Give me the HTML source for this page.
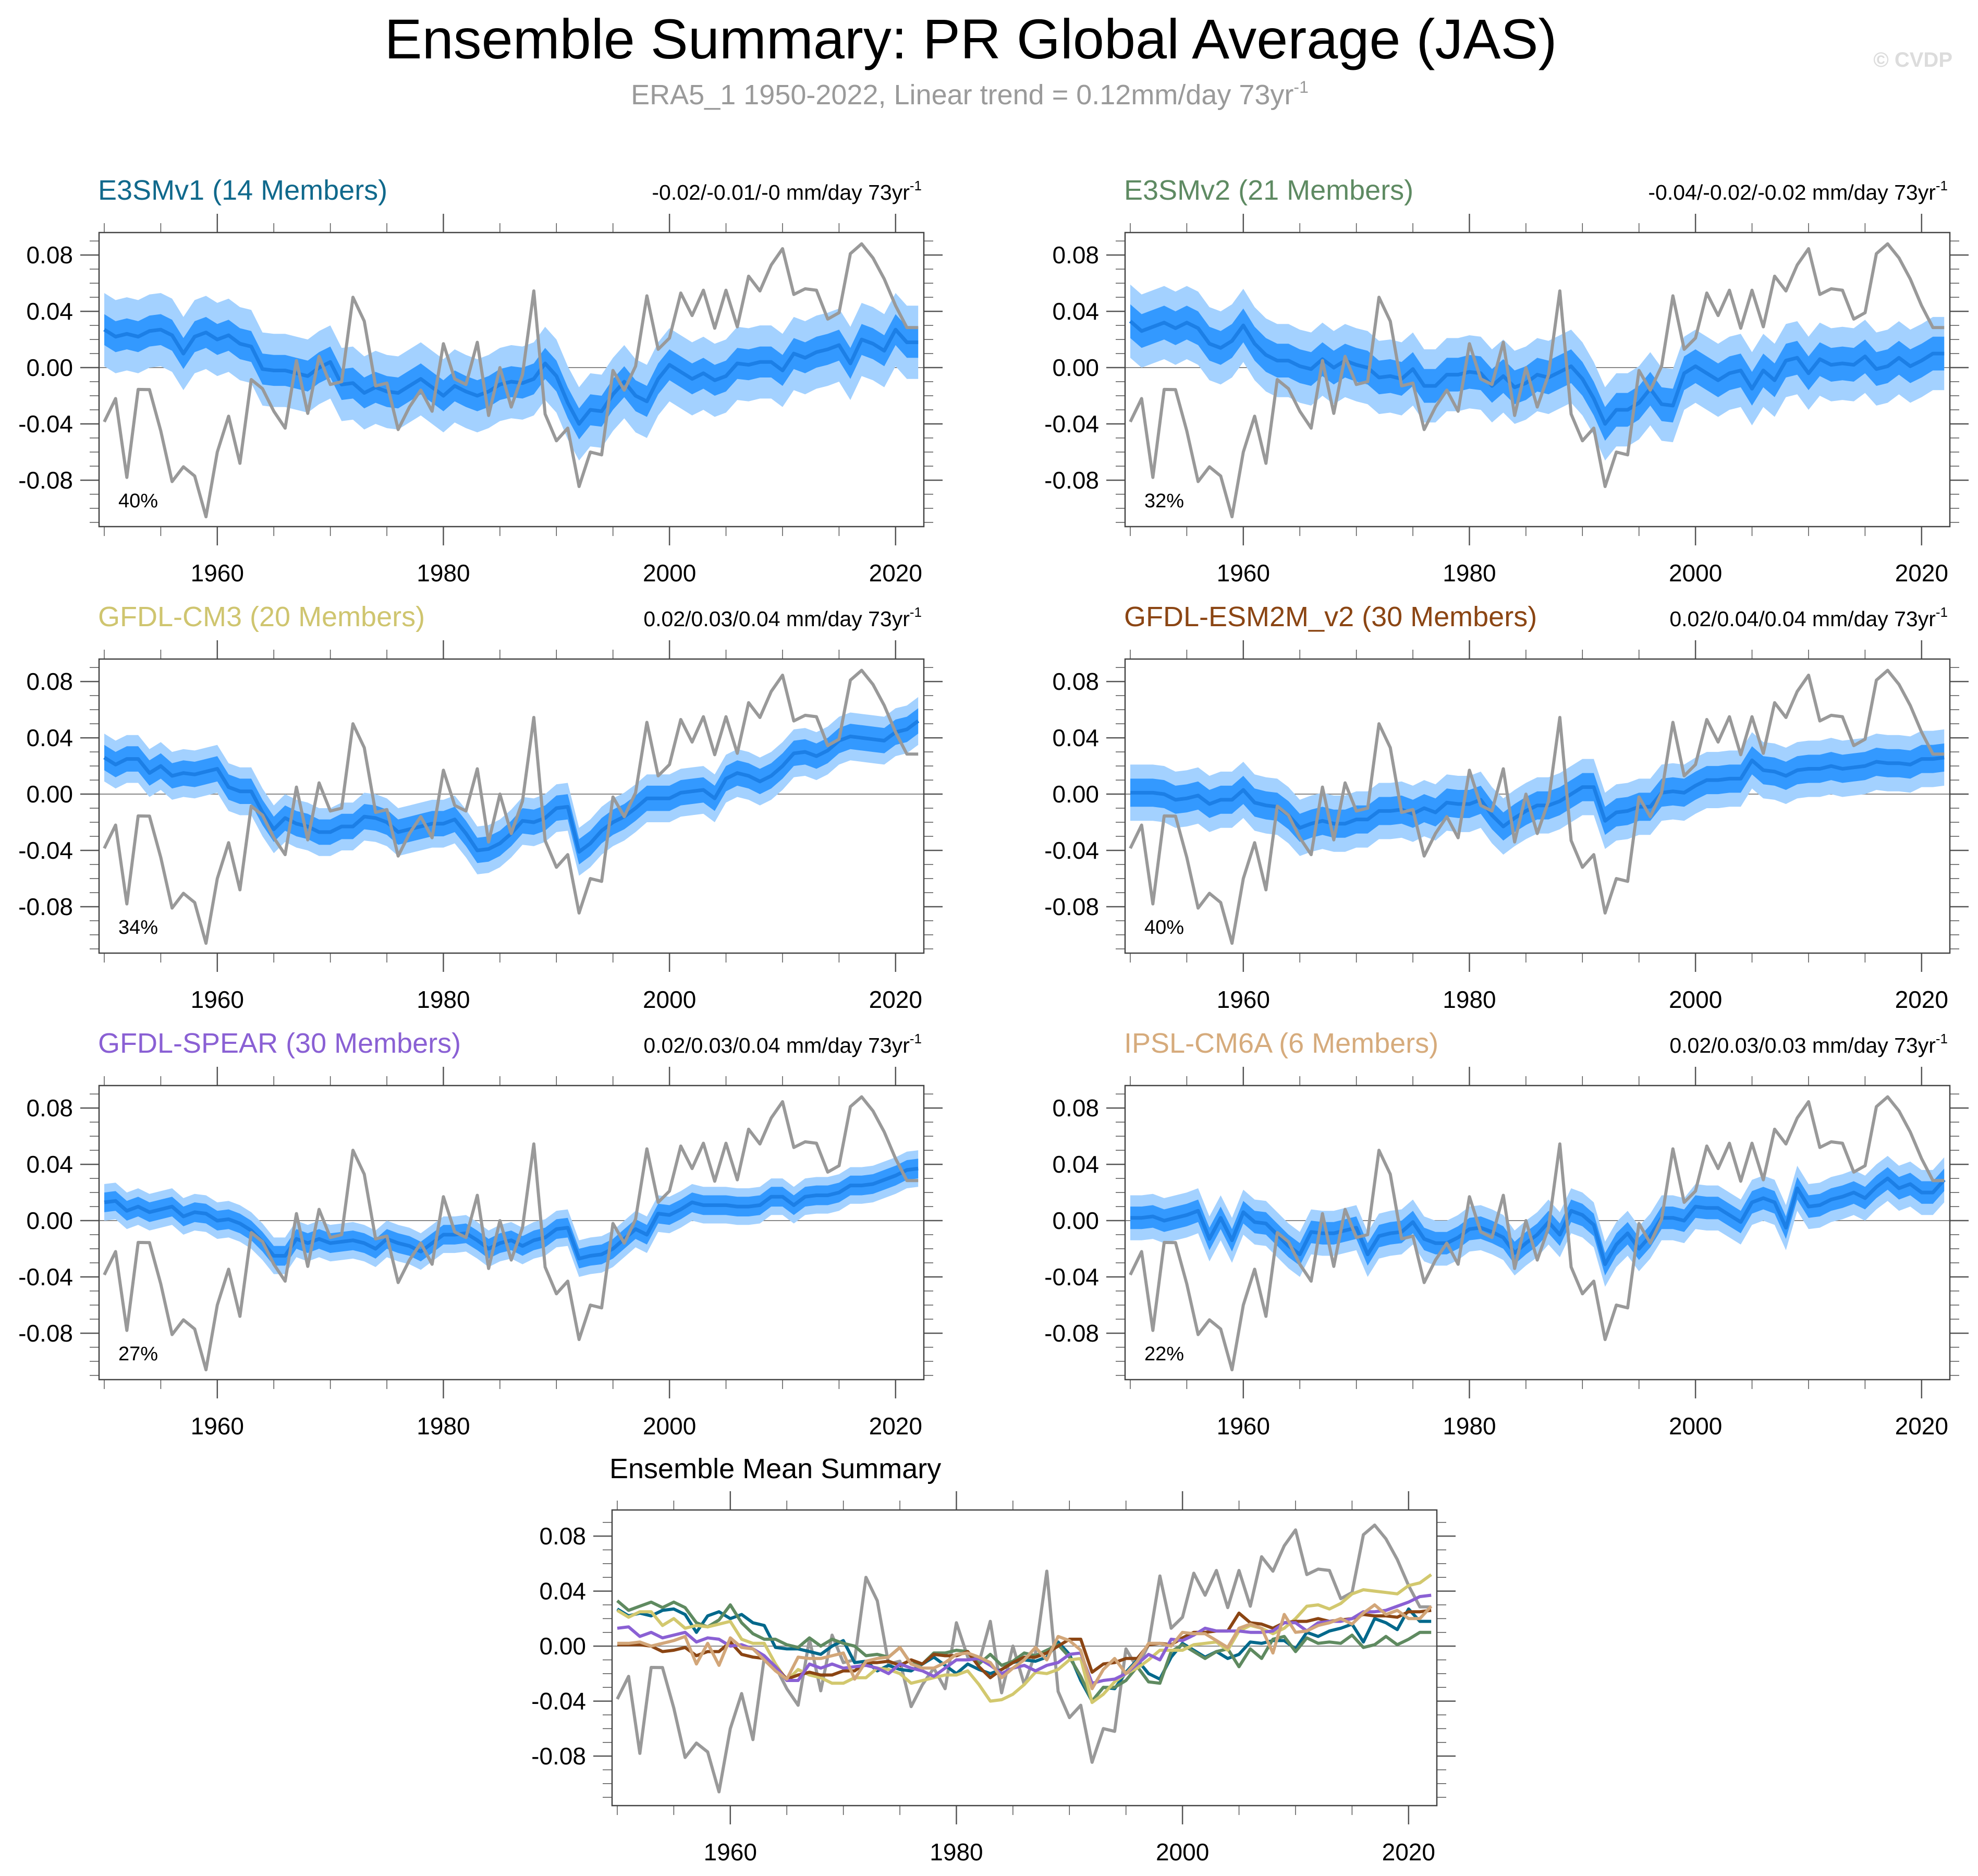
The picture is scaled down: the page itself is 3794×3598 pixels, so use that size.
<!DOCTYPE html>
<html><head><meta charset="utf-8"><style>
html,body{margin:0;padding:0;background:#fff}
svg{display:block}
text{font-family:"Liberation Sans",Arial,sans-serif}
</style></head><body>
<svg id="chart" width="3794" height="3598" viewBox="0 0 3794 3598" xmlns="http://www.w3.org/2000/svg">
<text x="1862" y="112" font-size="108" text-anchor="middle" fill="#000">Ensemble Summary: PR Global Average (JAS)</text>
<text x="1860" y="200" font-size="54" text-anchor="middle" fill="#9a9a9a">ERA5_1 1950-2022, Linear trend = 0.12mm/day 73yr<tspan dy="-22" font-size="32">-1</tspan></text>
<text x="3745" y="128" font-size="40" font-weight="bold" text-anchor="end" fill="#dcdcdc">© CVDP</text>
<g id="panels"></g>
</svg>
<script>
const years = [];
for (let y = 1950; y <= 2022; y++) years.push(y);
const obs = [-0.0385,-0.022,-0.078,-0.0155,-0.0156,-0.045,-0.081,-0.0705,-0.077,-0.106,-0.06,-0.0345,-0.068,-0.0085,-0.015,-0.031,-0.043,0.005,-0.0325,0.008,-0.012,-0.01,0.05,0.033,-0.013,-0.011,-0.044,-0.028,-0.016,-0.031,0.017,-0.008,-0.012,0.018,-0.034,0.0,-0.028,-0.005,0.0545,-0.033,-0.052,-0.043,-0.0845,-0.06,-0.062,-0.002,-0.016,0.001,0.051,0.013,0.021,0.053,0.037,0.055,0.028,0.055,0.029,0.065,0.0545,0.073,0.0845,0.052,0.056,0.055,0.0345,0.039,0.081,0.088,0.078,0.063,0.044,0.0285,0.0285];
const meanE3SMv1 = [0.027,0.022,0.024,0.022,0.026,0.027,0.023,0.010,0.022,0.025,0.020,0.023,0.017,0.015,-0.001,-0.002,-0.002,-0.004,-0.006,0.0,0.004,-0.012,-0.011,-0.018,-0.014,-0.017,-0.018,-0.013,-0.008,-0.014,-0.020,-0.013,-0.017,-0.020,-0.017,-0.012,-0.010,-0.011,-0.008,0.003,-0.006,-0.025,-0.040,-0.030,-0.031,-0.019,-0.010,-0.020,-0.024,-0.008,0.002,-0.003,-0.008,-0.004,-0.009,-0.006,0.003,0.002,0.004,0.004,-0.002,0.010,0.007,0.011,0.013,0.016,0.003,0.020,0.017,0.012,0.027,0.018,0.018];
const meanE3SMv2 = [0.033,0.026,0.029,0.032,0.028,0.032,0.028,0.017,0.014,0.019,0.030,0.017,0.009,0.005,0.005,0.001,-0.001,0.006,0.0,0.005,0.002,0.0,-0.007,-0.006,-0.008,-0.001,-0.013,-0.013,-0.005,-0.005,-0.003,-0.004,-0.013,-0.006,-0.014,-0.011,-0.005,-0.007,-0.003,0.001,-0.008,-0.022,-0.040,-0.030,-0.030,-0.025,-0.015,-0.026,-0.027,-0.004,0.001,-0.004,-0.009,-0.004,-0.002,-0.015,-0.002,-0.009,0.005,0.007,-0.004,0.006,0.002,0.003,0.002,0.008,-0.001,0.001,0.007,0.001,0.005,0.010,0.010];
const meanCM3 = [0.026,0.021,0.025,0.025,0.015,0.020,0.013,0.015,0.014,0.016,0.018,0.005,0.002,0.002,-0.013,-0.025,-0.017,-0.021,-0.023,-0.027,-0.027,-0.023,-0.023,-0.016,-0.017,-0.020,-0.027,-0.025,-0.023,-0.021,-0.021,-0.018,-0.028,-0.040,-0.039,-0.035,-0.028,-0.019,-0.020,-0.017,-0.010,-0.009,-0.041,-0.035,-0.026,-0.020,-0.016,-0.010,-0.003,-0.003,-0.003,0.001,0.002,0.003,-0.003,0.011,0.015,0.013,0.009,0.013,0.020,0.029,0.030,0.027,0.031,0.038,0.041,0.040,0.039,0.038,0.044,0.046,0.052];
const meanESM2M = [0.001,0.001,0.001,0.0,-0.004,-0.003,-0.001,-0.007,-0.004,-0.004,0.003,-0.006,-0.008,-0.009,-0.015,-0.024,-0.021,-0.019,-0.021,-0.021,-0.018,-0.018,-0.012,-0.012,-0.011,-0.014,-0.010,-0.013,-0.006,-0.007,-0.007,-0.004,-0.015,-0.023,-0.017,-0.012,-0.008,-0.008,-0.005,0.0,0.005,0.005,-0.019,-0.013,-0.012,-0.009,-0.009,0.001,0.002,0.001,0.006,0.010,0.010,0.011,0.011,0.024,0.017,0.016,0.013,0.017,0.018,0.018,0.020,0.018,0.019,0.020,0.023,0.022,0.022,0.021,0.025,0.025,0.026];
const meanSPEAR = [0.013,0.014,0.007,0.010,0.006,0.008,0.010,0.003,0.006,0.005,0.0,0.001,-0.002,-0.007,-0.015,-0.025,-0.025,-0.013,-0.016,-0.013,-0.016,-0.015,-0.014,-0.016,-0.020,-0.013,-0.016,-0.018,-0.022,-0.016,-0.010,-0.010,-0.009,-0.014,-0.020,-0.016,-0.014,-0.018,-0.014,-0.012,-0.006,-0.005,-0.027,-0.025,-0.024,-0.020,-0.013,-0.006,-0.010,0.005,0.004,0.008,0.013,0.011,0.011,0.011,0.010,0.010,0.011,0.017,0.017,0.011,0.017,0.018,0.018,0.020,0.025,0.025,0.026,0.029,0.032,0.036,0.037];
const meanIPSL = [0.002,0.002,0.003,0.0,0.002,0.004,0.007,-0.013,0.002,-0.014,0.006,-0.001,-0.002,-0.010,-0.018,-0.024,-0.008,-0.009,-0.009,-0.007,-0.005,-0.024,-0.011,-0.009,-0.008,-0.001,-0.013,-0.016,-0.016,-0.012,-0.006,-0.005,-0.008,-0.012,-0.023,-0.016,-0.010,-0.001,-0.010,0.007,0.004,-0.003,-0.031,-0.017,-0.009,-0.020,-0.011,0.002,0.002,0.0,0.010,0.009,0.009,0.004,-0.001,0.013,0.016,0.013,-0.005,0.023,0.010,0.011,0.015,0.017,0.020,0.016,0.024,0.030,0.023,0.026,0.020,0.020,0.029];
const modelNames = ["E3SMv1 (14 Members)","E3SMv2 (21 Members)","GFDL-CM3 (20 Members)","GFDL-ESM2M_v2 (30 Members)","GFDL-SPEAR (30 Members)","IPSL-CM6A (6 Members)"];
const trendLabels = ["-0.02/-0.01/-0 mm/day 73yr","-0.04/-0.02/-0.02 mm/day 73yr","0.02/0.03/0.04 mm/day 73yr","0.02/0.04/0.04 mm/day 73yr","0.02/0.03/0.04 mm/day 73yr","0.02/0.03/0.03 mm/day 73yr"];
const pctLabels = ["40%","32%","34%","40%","27%","22%"];
const innerSpread = [0.011,0.012,0.009,0.010,0.007,0.008];
const outerSpread = [0.026,0.026,0.017,0.020,0.013,0.016];
const yTicks = [-0.08,-0.04,0.00,0.04,0.08];
const yTickLabels = ["-0.08","-0.04","0.00","0.04","0.08"];
const xTicks = [1960,1980,2000,2020];
const means = [meanE3SMv1,meanE3SMv2,meanCM3,meanESM2M,meanSPEAR,meanIPSL];
const titleColors = ["#10698c","#5e8a62","#cfc56f","#8b4513","#8a60d4","#d6ab7c"];
const lineColors = ["#00688b","#5f8a60","#d2c86e","#8b4513","#8a60d4","#d2a679"];

const NS = "http://www.w3.org/2000/svg";
const root = document.getElementById("panels");
function mk(tag, attrs, parent) {
  const e = document.createElementNS(NS, tag);
  for (const k in attrs) e.setAttribute(k, attrs[k]);
  (parent || root).appendChild(e);
  return e;
}

function drawPanel(L, T, W, H, yMin, yMax, name, parentName) {
  const g = mk("g", {});
  
  
  const x0 = 1949.54, x1 = 2022.5;
  const X = v => L + (v - x0) / (x1 - x0) * W;
  const Y = v => T + (yMax - v) / (yMax - yMin) * H;
  const tickColor = "#555";
  for (let v = -0.11; v <= 0.095; v += 0.01) {
    const vv = Math.round(v * 100) / 100;
    const major = Math.abs(Math.round(vv * 100) % 4) === 0;
    const len = major ? 36 : 18;
    const y = Y(vv);
    if (y < T || y > T + H) continue;
    const t1 = mk("line", {x1: L - len, x2: L, y1: y, y2: y, stroke: tickColor, "stroke-width": major ? 2.5 : 1.5}, g);
    
    
    const t2 = mk("line", {x1: L + W, x2: L + W + len, y1: y, y2: y, stroke: tickColor, "stroke-width": major ? 2.5 : 1.5}, g);
    
    
  }
  yTicks.forEach((v, i) => {
    const t = mk("text", {x: L - 50, y: Y(v) + 16, "font-size": 46, "text-anchor": "end", fill: "#000"}, g);
    t.textContent = yTickLabels[i];
    
    
  });
  for (let yr = 1950; yr <= 2022; yr += 5) {
    const major = yr % 20 === 0;
    const len = major ? 36 : 18;
    const x = X(yr);
    const a = mk("line", {x1: x, x2: x, y1: T - len, y2: T, stroke: tickColor, "stroke-width": major ? 2.5 : 1.5}, g);
    
    
    const b = mk("line", {x1: x, x2: x, y1: T + H, y2: T + H + len, stroke: tickColor, "stroke-width": major ? 2.5 : 1.5}, g);
    
    
  }
  xTicks.forEach(v => {
    const t = mk("text", {x: X(v), y: T + H + 105, "font-size": 46, "text-anchor": "middle", fill: "#000"}, g);
    t.textContent = String(v);
    
    
  });
  const zl = mk("line", {x1: L, x2: L + W, y1: Y(0), y2: Y(0), stroke: "#888", "stroke-width": 2}, g);
  
  
  return {g, X, Y};
}

function linePts(arr, X, Y) { return arr.map((v, i) => X(years[i]).toFixed(1) + "," + Y(v).toFixed(1)).join(" "); }
function bandPts(arr, w, X, Y) {
  const up = arr.map((v, i) => X(years[i]).toFixed(1) + "," + Y(v + w).toFixed(1));
  const dn = arr.map((v, i) => X(years[i]).toFixed(1) + "," + Y(v - w).toFixed(1)).reverse();
  return up.concat(dn).join(" ");
}

const colL = [190, 2158];
const rowT = [446, 1264, 2082];
const PW = 1582, PH = 564;
for (let m = 0; m < 6; m++) {
  const L = colL[m % 2], T = rowT[Math.floor(m / 2)];
  const {g, X, Y} = drawPanel(L, T, PW, PH, -0.113, 0.096, modelNames[m], 'model-panel');
  const ob = mk("polygon", {points: bandPts(means[m], outerSpread[m], X, Y), fill: "#a3d1ff"}, g);
  
  
  const ib = mk("polygon", {points: bandPts(means[m], innerSpread[m], X, Y), fill: "#3399ff"}, g);
  
  
  const ml = mk("polyline", {points: linePts(means[m], X, Y), fill: "none", stroke: "#1c7fe6", "stroke-width": 7, "stroke-linejoin": "round"}, g);
  
  
  const ol = mk("polyline", {points: linePts(obs, X, Y), fill: "none", stroke: "#999", "stroke-width": 6, "stroke-linejoin": "round"}, g);
  
  
  const fr = mk("rect", {x: L, y: T, width: PW, height: PH, fill: "none", stroke: "#444", "stroke-width": 2.5}, g);
  
  
  const tt = mk("text", {x: L - 2, y: T - 63, "font-size": 54, fill: titleColors[m]}, g);
  tt.textContent = modelNames[m];
  
  
  const tr = mk("text", {x: L + PW - 4, y: T - 63, "font-size": 41, "text-anchor": "end", fill: "#000"}, g);
  tr.textContent = trendLabels[m];
  const sup = mk("tspan", {dy: -18, "font-size": 26}, tr);
  sup.textContent = "-1";
  
  
  const pc = mk("text", {x: L + 37, y: T + 527, "font-size": 38, fill: "#000"}, g);
  pc.textContent = pctLabels[m];
  
  
}

{
  const L = 1174, T = 2896, W = 1582, H = 567;
  const {g, X, Y} = drawPanel(L, T, W, H, -0.116, 0.099, "summary", 'ensemble-mean-summary-panel');
  const ol = mk("polyline", {points: linePts(obs, X, Y), fill: "none", stroke: "#999", "stroke-width": 6, "stroke-linejoin": "round"}, g);
  
  
  for (let m = 0; m < 6; m++) {
    const pl = mk("polyline", {points: linePts(means[m], X, Y), fill: "none", stroke: lineColors[m], "stroke-width": 6, "stroke-linejoin": "round"}, g);
    
    
  }
  const fr = mk("rect", {x: L, y: T, width: W, height: H, fill: "none", stroke: "#444", "stroke-width": 2.5}, g);
  
  
  const tt = mk("text", {x: 1169, y: 2835, "font-size": 54, fill: "#000"}, g);
  tt.textContent = "Ensemble Mean Summary";
  
  
}
</script>
</body></html>
